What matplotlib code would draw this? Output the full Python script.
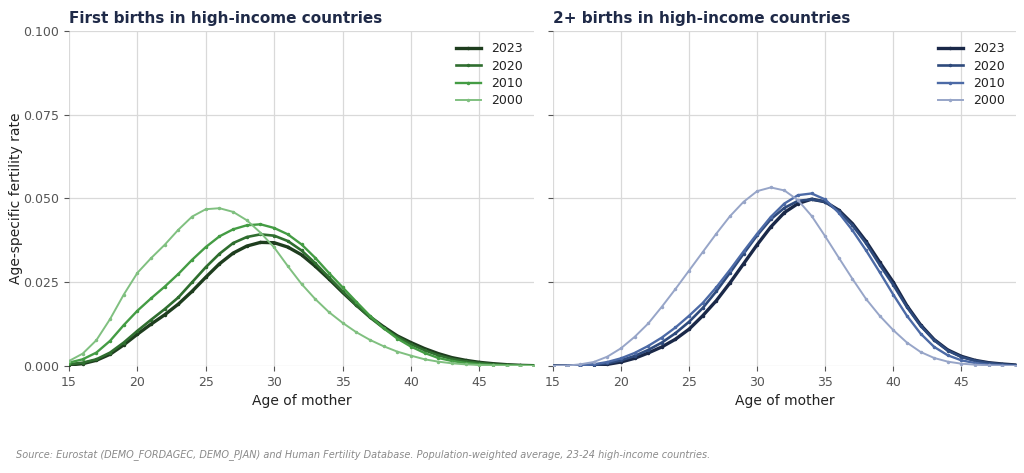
import numpy as np
import matplotlib
matplotlib.use("Agg")
import matplotlib.pyplot as plt
from matplotlib.ticker import FormatStrFormatter

ages = list(range(15, 50))
years = ["2023", "2020", "2010", "2000"]

first_2000 = [0.0015, 0.0037, 0.0077, 0.0140, 0.0213, 0.0278, 0.0322, 0.0362, 0.0407, 0.0446,
              0.0468, 0.0471, 0.0460, 0.0435, 0.0398, 0.0354, 0.0298, 0.0245, 0.0200, 0.0161,
              0.0129, 0.0101, 0.0078, 0.0059, 0.0043, 0.0031, 0.0020, 0.0013, 0.0008, 0.0005,
              0.0003, 0.0002, 0.0001, 0.0001, 0.0000]
first_2010 = [0.0010, 0.0020, 0.0040, 0.0075, 0.0122, 0.0165, 0.0202, 0.0237, 0.0275, 0.0317,
              0.0355, 0.0387, 0.0408, 0.0420, 0.0423, 0.0412, 0.0393, 0.0363, 0.0323, 0.0278,
              0.0235, 0.0192, 0.0150, 0.0113, 0.0082, 0.0058, 0.0039, 0.0024, 0.0015, 0.0009,
              0.0005, 0.0003, 0.0002, 0.0001, 0.0001]
first_2020 = [0.0005, 0.0010, 0.0020, 0.0040, 0.0070, 0.0105, 0.0138, 0.0170, 0.0205, 0.0250,
              0.0295, 0.0335, 0.0367, 0.0385, 0.0393, 0.0389, 0.0373, 0.0345, 0.0307, 0.0265,
              0.0223, 0.0182, 0.0145, 0.0113, 0.0087, 0.0065, 0.0047, 0.0032, 0.0021, 0.0014,
              0.0009, 0.0005, 0.0003, 0.0002, 0.0001]
first_2023 = [0.0003, 0.0007, 0.0017, 0.0035, 0.0063, 0.0095, 0.0125, 0.0153, 0.0185, 0.0223,
              0.0265, 0.0305, 0.0337, 0.0358, 0.0369, 0.0368, 0.0355, 0.0332, 0.0298, 0.0260,
              0.0220, 0.0182, 0.0147, 0.0117, 0.0090, 0.0070, 0.0052, 0.0037, 0.0025, 0.0017,
              0.0011, 0.0007, 0.0004, 0.0002, 0.0001]

second_2000 = [0.0000, 0.0001, 0.0005, 0.0012, 0.0028, 0.0053, 0.0087, 0.0127, 0.0177, 0.0230,
               0.0285, 0.0340, 0.0395, 0.0447, 0.0490, 0.0522, 0.0533, 0.0524, 0.0495, 0.0448,
               0.0387, 0.0323, 0.0260, 0.0200, 0.0150, 0.0107, 0.0070, 0.0042, 0.0024, 0.0013,
               0.0007, 0.0004, 0.0002, 0.0001, 0.0000]
second_2010 = [0.0000, 0.0001, 0.0002, 0.0005, 0.0012, 0.0023, 0.0039, 0.0060, 0.0085, 0.0115,
               0.0150, 0.0188, 0.0235, 0.0287, 0.0342, 0.0395, 0.0445, 0.0485, 0.0510, 0.0515,
               0.0497, 0.0457, 0.0405, 0.0345, 0.0280, 0.0213, 0.0150, 0.0097, 0.0057, 0.0032,
               0.0017, 0.0009, 0.0004, 0.0002, 0.0001]
second_2020 = [0.0000, 0.0000, 0.0001, 0.0003, 0.0008, 0.0017, 0.0030, 0.0048, 0.0070, 0.0098,
               0.0132, 0.0173, 0.0223, 0.0278, 0.0335, 0.0390, 0.0438, 0.0472, 0.0493, 0.0497,
               0.0491, 0.0462, 0.0420, 0.0366, 0.0302, 0.0242, 0.0176, 0.0120, 0.0077, 0.0046,
               0.0027, 0.0016, 0.0009, 0.0005, 0.0002]
second_2023 = [0.0000, 0.0000, 0.0001, 0.0002, 0.0005, 0.0012, 0.0023, 0.0039, 0.0057, 0.0080,
               0.0110, 0.0150, 0.0195, 0.0248, 0.0305, 0.0362, 0.0415, 0.0458, 0.0485, 0.0498,
               0.0490, 0.0465, 0.0425, 0.0372, 0.0310, 0.0250, 0.0180, 0.0123, 0.0079, 0.0048,
               0.0029, 0.0017, 0.0010, 0.0006, 0.0003]

first = [first_2023, first_2020, first_2010, first_2000]
second = [second_2023, second_2020, second_2010, second_2000]

greens = ["#1e3d1e", "#2f6e2f", "#449c44", "#80c080"]
blues = ["#1a2848", "#2e4a7c", "#4c6aa6", "#97a5c8"]
widths = [2.4, 1.9, 1.7, 1.4]

plt.rcParams['font.family'] = ['DejaVu Sans']
fig = plt.figure(figsize=(10.24, 4.73), dpi=100)
ax1 = fig.add_axes([0.0674, 0.2262, 0.4541, 0.7083])
ax2 = fig.add_axes([0.5400, 0.2262, 0.4520, 0.7083], sharey=ax1)

titles = ["First births in high-income countries", "2+ births in high-income countries"]
for ax, data, cols, title in [(ax1, first, greens, titles[0]), (ax2, second, blues, titles[1])]:
    for yr, vals, c, lw in zip(years, data, cols, widths):
        ax.plot(ages, vals, color=c, lw=lw, marker='o', markersize=1.5, label=yr)
    ax.set_xlim(15, 49)
    ax.set_ylim(0, 0.1)
    ax.set_xticks([15, 20, 25, 30, 35, 40, 45])
    ax.set_yticks([0, 0.025, 0.05, 0.075, 0.1])
    ax.grid(True, color='#d9d9d9', lw=0.9)
    ax.set_axisbelow(True)
    for s in ax.spines.values():
        s.set_visible(False)
    ax.tick_params(colors='#555555', labelsize=9, length=3.5, width=0.8)
    ax.set_xlabel("Age of mother", fontsize=10, color='#222222')
    ax.set_title(title, loc='left', fontsize=11, fontweight='bold', color='#1f2a48', pad=6)
    leg = ax.legend(loc='upper right', frameon=False, fontsize=9, handlelength=2.0,
                    labelspacing=0.35)
    for t in leg.get_texts():
        t.set_color('#222222')

ax1.yaxis.set_major_formatter(FormatStrFormatter('%.3f'))
ax1.set_ylabel("Age-specific fertility rate", fontsize=10, color='#222222', labelpad=0)
plt.setp(ax2.get_yticklabels(), visible=False)

fig.text(0.016, 0.033, "Source: Eurostat (DEMO_FORDAGEC, DEMO_PJAN) and Human Fertility Database. "
         "Population-weighted average, 23-24 high-income countries.",
         fontsize=7, style='italic', color='#8a8a8a')

fig.savefig("out.png", dpi=100)
